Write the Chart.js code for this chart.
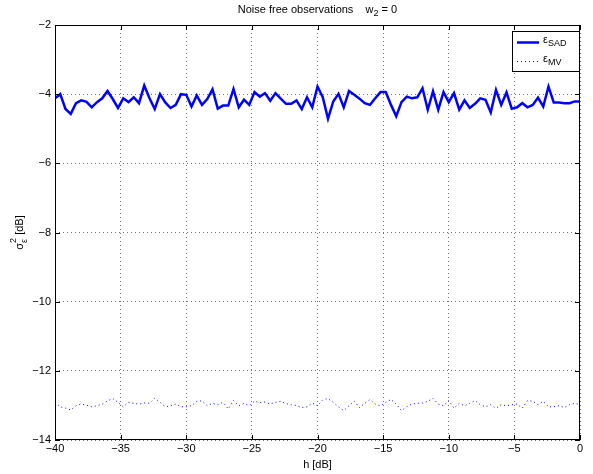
<!DOCTYPE html>
<html>
<head>
<meta charset="utf-8">
<script src="https://cdn.jsdelivr.net/npm/chart.js@4.4.1/dist/chart.umd.min.js"></script>
<style>
  html, body { margin: 0; padding: 0; background: #fff; }
  #wrap { width: 593px; height: 474px; }
</style>
</head>
<body>
<div id="wrap"><canvas id="chart" width="593" height="474"></canvas></div>
<script>
// h [dB], -40 .. 0 in steps of 0.4
const hValues = Array.from({ length: 101 }, (_, i) => +(-40 + i * 0.4).toFixed(1));

const sadValues = [
  -4.12, -4.00, -4.43, -4.57, -4.26, -4.18, -4.22, -4.38, -4.23, -4.12,
  -3.91, -4.14, -4.40, -4.12, -4.23, -4.09, -4.26, -3.75, -4.12, -4.43,
  -4.00, -4.24, -4.40, -4.31, -4.00, -4.02, -4.36, -4.04, -4.31, -4.14,
  -3.86, -4.42, -4.33, -4.33, -3.85, -4.38, -4.16, -4.31, -3.94, -4.07,
  -3.97, -4.19, -3.97, -4.13, -4.28, -4.28, -4.18, -4.43, -4.09, -4.38,
  -3.78, -4.09, -4.71, -4.21, -3.99, -4.38, -3.91, -4.02, -4.13, -4.26,
  -4.31, -4.12, -3.94, -3.94, -4.31, -4.64, -4.23, -4.07, -4.12, -4.09,
  -3.83, -4.45, -3.92, -4.45, -3.94, -4.23, -3.97, -4.45, -4.18, -4.40,
  -4.28, -4.12, -4.16, -4.53, -3.88, -4.31, -3.95, -4.42, -4.38, -4.26,
  -4.38, -4.31, -4.10, -4.36, -3.78, -4.24, -4.24, -4.26, -4.26, -4.21,
  -4.21
];

const mvValues = [
  -12.91, -13.04, -13.08, -13.13, -13.01, -12.96, -12.99, -13.04, -13.01, -12.96,
  -12.87, -12.80, -12.91, -13.04, -12.91, -12.94, -12.96, -12.93, -12.94, -12.79,
  -12.91, -13.04, -13.01, -12.96, -13.04, -13.04, -13.01, -12.88, -12.87, -13.01,
  -12.94, -12.98, -12.91, -13.10, -12.86, -13.01, -12.94, -13.01, -12.88, -12.92,
  -12.90, -12.96, -12.91, -12.88, -12.95, -12.98, -13.00, -13.06, -13.04, -12.93,
  -13.01, -12.84, -12.80, -12.91, -13.04, -13.15, -13.01, -12.88, -13.06, -12.94,
  -12.83, -12.96, -13.01, -12.91, -12.83, -12.96, -13.15, -13.04, -12.96, -12.94,
  -12.93, -12.88, -12.80, -12.96, -13.01, -12.86, -13.08, -12.94, -13.01, -12.94,
  -12.86, -12.98, -13.04, -12.98, -13.08, -12.98, -13.01, -12.98, -12.96, -13.08,
  -12.86, -12.88, -12.98, -12.88, -13.04, -13.04, -13.01, -13.06, -12.98, -12.94,
  -12.98
];

const xTicks = [-40, -35, -30, -25, -20, -15, -10, -5, 0];
const yTicks = [-14, -12, -10, -8, -6, -4, -2];

const FONT = "'Liberation Sans', Arial, Helvetica, sans-serif";
const minus = (v) => String(v).replace('-', '\u2212');

// text with a sub- or superscript part; parts = [[text, 'n'|'sub'|'sup'], ...]
function richWidth(ctx, parts, size) {
  let w = 0;
  parts.forEach(([t, k]) => {
    ctx.font = `${k === 'n' ? size : size - 2}px ${FONT}`;
    w += ctx.measureText(t).width;
  });
  return w;
}
function drawRich(ctx, parts, x, y, size) {
  let cx = x;
  parts.forEach(([t, k]) => {
    ctx.font = `${k === 'n' ? size : size - 2}px ${FONT}`;
    const dy = k === 'sub' ? 4 : k === 'sup' ? -5 : 0;
    ctx.fillText(t, cx, y + dy);
    cx += ctx.measureText(t).width;
  });
}

const decor = {
  id: 'decor',
  afterDraw(chart) {
    const { ctx, chartArea: a, scales: { x, y } } = chart;
    ctx.save();
    ctx.strokeStyle = '#000';
    ctx.fillStyle = '#000';
    ctx.lineWidth = 1;
    ctx.setLineDash([]);

    // box
    ctx.strokeRect(Math.round(a.left) + 0.5, Math.round(a.top) + 0.5,
      Math.round(a.width) - 1, Math.round(a.height) - 1);

    // inward ticks
    ctx.beginPath();
    xTicks.forEach((v) => {
      const px = Math.round(x.getPixelForValue(v)) + 0.5;
      ctx.moveTo(px, a.bottom); ctx.lineTo(px, a.bottom - 5);
      ctx.moveTo(px, a.top); ctx.lineTo(px, a.top + 5);
    });
    yTicks.forEach((v) => {
      const py = Math.round(y.getPixelForValue(v)) + 0.5;
      ctx.moveTo(a.left, py); ctx.lineTo(a.left + 5, py);
      ctx.moveTo(a.right, py); ctx.lineTo(a.right - 5, py);
    });
    ctx.stroke();

    ctx.textBaseline = 'middle';
    ctx.textAlign = 'left';

    // title
    const title = [['Noise free observations    w', 'n'], ['2', 'sub'], [' = 0', 'n']];
    const tw = richWidth(ctx, title, 11);
    drawRich(ctx, title, (a.left + a.right) / 2 - tw / 2, 10, 11);

    // x label
    ctx.font = `11px ${FONT}`;
    ctx.textAlign = 'center';
    ctx.fillText('h [dB]', (a.left + a.right) / 2, 465);

    // y label (rotated)
    ctx.save();
    ctx.translate(20, (a.top + a.bottom) / 2);
    ctx.rotate(-Math.PI / 2);
    ctx.textAlign = 'left';
    ctx.font = `11px ${FONT}`;
    const sw = ctx.measureText('\u03c3').width;
    ctx.font = `9px ${FONT}`;
    const ew = Math.max(ctx.measureText('2').width, ctx.measureText('\u03b5').width);
    ctx.font = `11px ${FONT}`;
    const rest = ' [dB]';
    const total = sw + ew + ctx.measureText(rest).width;
    let lx = -total / 2;
    ctx.fillText('\u03c3', lx, 0);
    ctx.font = `9px ${FONT}`;
    ctx.fillText('2', lx + sw, -6);
    ctx.fillText('\u03b5', lx + sw, 5);
    ctx.font = `11px ${FONT}`;
    ctx.fillText(rest, lx + sw + ew, 0);
    ctx.restore();

    // legend
    const lgX = 512, lgY = 31, lgW = 67, lgH = 40;
    ctx.fillStyle = '#fff';
    ctx.fillRect(lgX, lgY, lgW, lgH);
    ctx.strokeStyle = '#000';
    ctx.strokeRect(lgX + 0.5, lgY + 0.5, lgW, lgH);

    const ds = chart.data.datasets;
    [[ds[0], 42, 'SAD'], [ds[1], 61, 'MV']].forEach(([d, ly, sub]) => {
      ctx.strokeStyle = d.borderColor;
      ctx.lineWidth = d.borderWidth;
      ctx.setLineDash(d.borderDash || []);
      ctx.beginPath();
      ctx.moveTo(517, ly + 0.5); ctx.lineTo(539, ly + 0.5);
      ctx.stroke();
      ctx.setLineDash([]);
      ctx.fillStyle = '#000';
      ctx.textAlign = 'left';
      drawRich(ctx, [['\u03b5', 'n'], [sub, 'sub']], 543, ly - 2, 11);
    });

    ctx.restore();
  },
};

new Chart(document.getElementById('chart'), {
  type: 'line',
  data: {
    labels: hValues,
    datasets: [
      {
        label: 'SAD',
        data: hValues.map((h, i) => ({ x: h, y: sadValues[i] })),
        borderColor: '#0000ff',
        borderWidth: 2.5,
        pointRadius: 0,
        tension: 0,
      },
      {
        label: 'MV',
        data: hValues.map((h, i) => ({ x: h, y: mvValues[i] })),
        borderColor: '#0000ff',
        borderWidth: 1,
        borderDash: [1, 3],
        pointRadius: 0,
        tension: 0,
      },
    ],
  },
  options: {
    responsive: false,
    animation: false,
    devicePixelRatio: 1,
    layout: { padding: { top: 25, right: 13, bottom: 0, left: 0 } },
    plugins: {
      legend: { display: false },
      title: { display: false },
      tooltip: { enabled: false },
    },
    scales: {
      x: {
        type: 'linear',
        min: -40,
        max: 0,
        afterBuildTicks: (s) => { s.ticks = xTicks.map((v) => ({ value: v })); },
        afterFit: (s) => { s.height = 34; },
        ticks: {
          color: '#000',
          font: { family: FONT, size: 11 },
          padding: 2,
          maxRotation: 0,
          callback: (v) => minus(v),
        },
        grid: { color: 'rgba(0,0,0,0.55)', lineWidth: 1, drawTicks: false },
        border: { display: false, dash: [1, 3] },
      },
      y: {
        type: 'linear',
        min: -14,
        max: -2,
        afterBuildTicks: (s) => { s.ticks = yTicks.map((v) => ({ value: v })); },
        afterFit: (s) => { s.width = 55; },
        ticks: {
          color: '#000',
          font: { family: FONT, size: 11 },
          padding: 4,
          callback: (v) => minus(v),
        },
        grid: { color: 'rgba(0,0,0,0.55)', lineWidth: 1, drawTicks: false },
        border: { display: false, dash: [1, 3] },
      },
    },
  },
  plugins: [decor],
});
</script>
</body>
</html>
